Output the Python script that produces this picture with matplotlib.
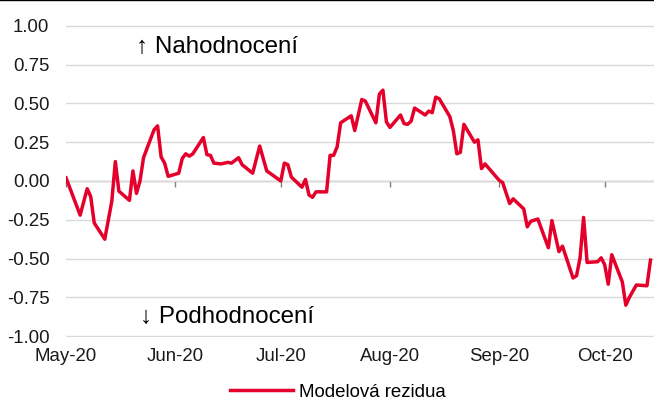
import matplotlib
matplotlib.use("Agg")
import matplotlib.pyplot as plt
import matplotlib.dates as mdates
from matplotlib.lines import Line2D
from matplotlib.ticker import NullFormatter
import pandas as pd

plt.rcParams['font.family'] = ['Liberation Sans', 'DejaVu Sans']

# residua modelu, den od 1. 5. 2020 a hodnota
start = pd.Timestamp('2020-05-01')
end = pd.Timestamp('2020-10-15')
den = [0, 4, 6, 7, 8, 11, 13, 14, 15, 18, 19, 20, 21, 22, 25, 26, 27, 28, 29,
       32, 33, 34, 35, 36, 39, 40, 41, 42, 44, 46, 47, 49, 50, 53, 55, 57,
       61, 62, 63, 64, 67, 68, 69, 70, 71, 74, 75, 76, 77, 78, 81, 82, 84, 85,
       88, 89, 90, 91, 92, 95, 96, 97, 98, 99, 102, 103, 104, 105, 106, 109,
       110, 111, 112, 113, 116, 117, 118, 119, 123, 124, 126, 127, 130, 131,
       132, 134, 137, 138, 140, 141, 144, 145, 146, 147, 148, 151, 152, 153,
       154, 155, 158, 159, 160, 162, 165, 166]
rezidua = [0.02, -0.22, -0.05, -0.10, -0.27, -0.375, -0.13, 0.125, -0.065,
           -0.125, 0.065, -0.08, 0.0, 0.15, 0.33, 0.355, 0.155, 0.115, 0.03,
           0.05, 0.145, 0.175, 0.16, 0.175, 0.28, 0.17, 0.165, 0.115, 0.11,
           0.12, 0.115, 0.15, 0.105, 0.05, 0.225, 0.065,
           0.0, 0.115, 0.105, 0.025, -0.04, 0.01, -0.09, -0.105, -0.07, -0.07,
           0.165, 0.165, 0.22, 0.375, 0.42, 0.325, 0.525, 0.515,
           0.375, 0.56, 0.585, 0.38, 0.345, 0.425, 0.37, 0.365, 0.385, 0.47,
           0.425, 0.45, 0.44, 0.54, 0.53, 0.415,
           0.325, 0.175, 0.185, 0.365, 0.25, 0.265, 0.08, 0.11, 0.005, -0.01,
           -0.145, -0.115, -0.18, -0.295,
           -0.26, -0.245, -0.43, -0.255, -0.455, -0.42, -0.625, -0.61, -0.495,
           -0.235, -0.525, -0.52, -0.495, -0.54,
           -0.665, -0.475, -0.65, -0.80, -0.75, -0.67, -0.675, -0.51]
y_ticks = [-1.0, -0.75, -0.5, -0.25, 0.0, 0.25, 0.5, 0.75, 1.0]

datum = start + pd.to_timedelta(den, unit='D')

fig = plt.figure(figsize=(6.54, 4.03), dpi=100)
ax = fig.add_axes([0.101, 0.1638, 0.899, 0.7742])

ax.plot(datum, rezidua, color='#e4002b', lw=2.5, label='Modelová rezidua',
        solid_joinstyle='round', zorder=3)

ax.set_xlim(start, end)
ax.set_ylim(-1.005, 1.005)
ax.set_yticks(y_ticks)
ax.yaxis.set_major_formatter(plt.FormatStrFormatter('%.2f'))
ax.yaxis.grid(True, color='#d9d9d9', lw=1)
ax.set_axisbelow(True)

ax.xaxis.set_major_locator(mdates.MonthLocator())
ax.xaxis.set_major_formatter(mdates.DateFormatter('%b-%y'))
ax.tick_params(axis='both', length=0, labelsize=13.4, colors='#1a1a1a')
ax.tick_params(axis='y', pad=12)
ax.tick_params(axis='x', pad=8)
for s in ax.spines.values():
    s.set_visible(False)

# nulova osa s carkami mesicu
osa = ax.secondary_xaxis(0.5)
osa.xaxis.set_major_locator(mdates.MonthLocator())
osa.xaxis.set_major_formatter(NullFormatter())
osa.tick_params(axis='x', length=4, width=1, color='#7f7f7f', direction='in',
                labelbottom=False, labeltop=False)
osa.spines['bottom'].set_color('black')
osa.spines['bottom'].set_linewidth(1)

ax.text(0.257, 0.929, '↑ Nahodnocení', transform=ax.transAxes,
        ha='center', va='center', fontsize=17.4, color='black')
ax.text(0.274, 0.064, '↓ Podhodnocení', transform=ax.transAxes,
        ha='center', va='center', fontsize=17.4, color='black')

fig.legend(loc='center', bbox_to_anchor=(0.516, 0.027), frameon=False,
           fontsize=13.4, handlelength=3.4, handletextpad=0.3)

fig.add_artist(Line2D([0, 1], [0.999, 0.999], transform=fig.transFigure,
                      color='black', lw=1))

fig.savefig('out.png', dpi=100)
